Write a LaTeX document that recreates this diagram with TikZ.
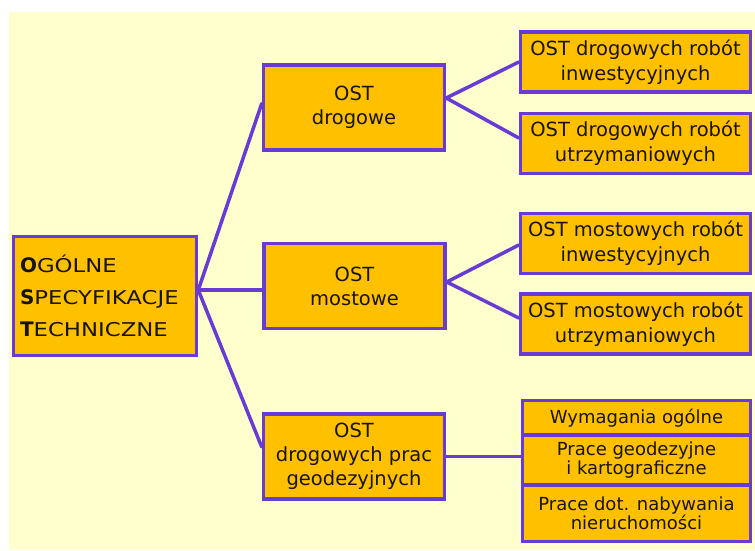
\documentclass[tikz,border=0pt]{standalone}
\usepackage{fontspec}
\setmainfont{DejaVu Sans}
\newfontfamily\widefont[FakeStretch=1.2]{DejaVu Sans}
\definecolor{bgyellow}{RGB}{255,255,206}
\definecolor{boxfill}{RGB}{255,192,0}
\definecolor{boxline}{RGB}{104,60,212}
\definecolor{txt}{RGB}{25,20,0}
\begin{document}
\begin{tikzpicture}[x=1pt,y=-1pt,
  box/.style={draw=boxline, fill=boxfill, line width=3.5pt, inner sep=0pt, text=txt, align=center},
  mainbox/.style={box, align=left, text width=170pt, inner xsep=6.5pt, minimum height=119pt, font=\fontsize{19}{32}\selectfont},
  midbox/.style={box, minimum width=181pt, minimum height=85pt, font=\fontsize{19.5}{24}\selectfont},
  rightbox/.style={box, minimum width=230pt, minimum height=60pt, font=\fontsize{19.5}{25}\selectfont},
  stackbox/.style={box, minimum width=228pt, font=\fontsize{18}{19.5}\selectfont},
  link/.style={draw=boxline, line width=3.5pt, line cap=round, line join=round}]
\useasboundingbox (0,0) rectangle (755,550);
\fill[bgyellow] (9,12) rectangle (755,550);

\node[mainbox] (main) at (105,296) {{\fontsize{20}{32}\selectfont\bfseries O}{\widefont GÓLNE}\\
{\fontsize{20}{32}\selectfont\bfseries S}{\widefont PECYFIKACJE}\\
{\fontsize{20}{32}\selectfont\bfseries T}{\widefont ECHNICZNE}};

\node[midbox] (drog) at (354,107.5) {OST\\drogowe};
\node[midbox] (most) at (354.5,286) {OST\\mostowe};
\node[midbox] (prac) at (354,456.5) {OST\\drogowych prac\\geodezyjnych};

\node[rightbox] (r1) at (635.5,62) {OST drogowych robót\\inwestycyjnych};
\node[rightbox] (r2) at (635.5,143.5) {OST drogowych robót\\utrzymaniowych};
\node[rightbox] (r3) at (635.5,243.5) {OST mostowych robót\\inwestycyjnych};
\node[rightbox] (r4) at (635.5,324) {OST mostowych robót\\utrzymaniowych};

\node[stackbox, minimum height=34.5pt] (s1) at (636.5,417.75) {Wymagania ogólne};
\node[stackbox, minimum height=50pt] (s2) at (636.5,460) {Prace geodezyjne\\i kartograficzne};
\node[stackbox, minimum height=56.5pt] (s3) at (636.5,513.25) {Prace dot. nabywania\\nieruchomości};

\coordinate (mA) at ([yshift=6pt]main.east);
\draw[link] (mA) -- ([yshift=4pt]drog.west);
\draw[link] (mA) -- (mA -| most.west);
\draw[link] (mA) -- ([yshift=9.5pt]prac.west);

\coordinate (dA) at ([yshift=9.5pt]drog.east);
\draw[link] (dA) -- (r1.west);
\draw[link] (dA) -- ([yshift=5.5pt]r2.west);

\coordinate (oA) at ([yshift=4pt]most.east);
\draw[link] (oA) -- ([yshift=-1.5pt]r3.west);
\draw[link] (oA) -- ([yshift=6pt]r4.west);

\draw[link] (prac.east) -- (prac.east -| s2.west);
\end{tikzpicture}
\end{document}
